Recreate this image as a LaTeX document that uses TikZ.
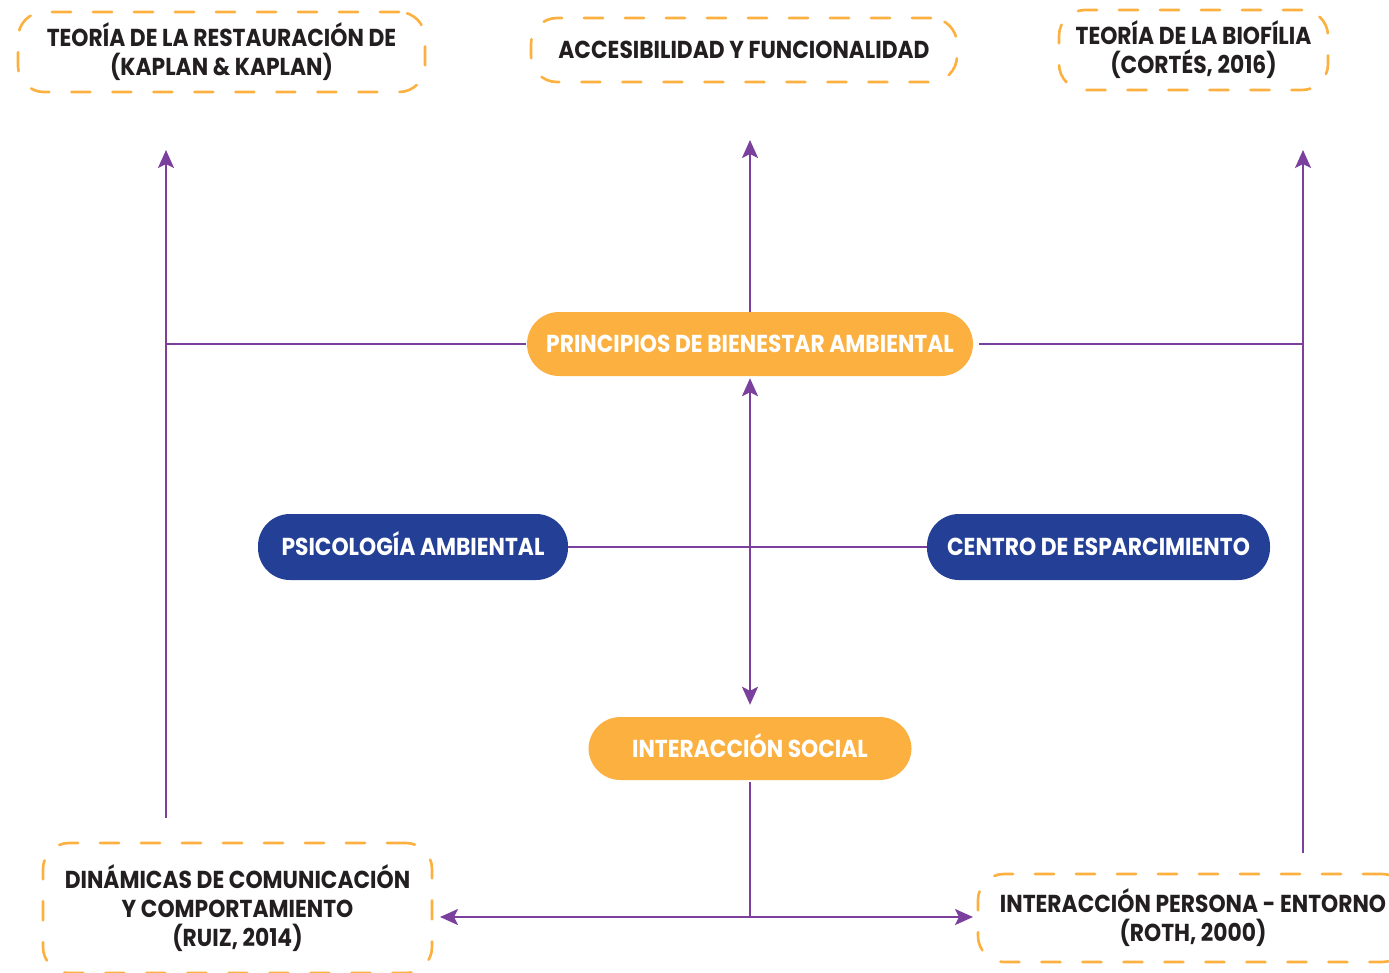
\documentclass[tikz,border=0pt]{standalone}
\usepackage{fontspec}
\setmainfont{Poppins}[FakeStretch=0.89]
\usetikzlibrary{arrows.meta}
\definecolor{orng}{HTML}{FBB040}
\definecolor{purp}{HTML}{7B3F9E}
\definecolor{navy}{HTML}{233F96}
\definecolor{ink}{HTML}{231F20}
\tikzset{
  dbox/.style={draw=orng, line width=2.6pt, dash pattern=on 19pt off 22pt, line cap=round,
    rounded corners=26pt, align=center, text=ink, font=\fontsize{24.5}{29}\selectfont\bfseries, inner sep=0pt},
  pill/.style={rounded corners=32pt, text=white, font=\fontsize{24.5}{29}\selectfont\bfseries, inner sep=0pt, minimum height=64pt, text height=17pt, text depth=0pt},
  opill/.style={pill, fill=orng},
  bpill/.style={pill, fill=navy},
  conn/.style={draw=purp, line width=2.4pt},
  arr/.style={-{Stealth[length=18pt,width=16pt,inset=4pt]}},
  darr/.style={{Stealth[length=18pt,width=16pt,inset=4pt]}-{Stealth[length=18pt,width=16pt,inset=4pt]}}
}
\begin{document}
\begin{tikzpicture}[x=1pt,y=-1pt]
\useasboundingbox (0,0) rectangle (1389,972);
% dashed boxes
\node[dbox, minimum width=407pt, minimum height=80pt] (kap) at (221.5,52) {TEORÍA DE LA RESTAURACIÓN DE\\(KAPLAN \& KAPLAN)};
\node[dbox, minimum width=426pt, minimum height=64pt] (acc) at (744,50) {ACCESIBILIDAD Y FUNCIONALIDAD};
\node[dbox, minimum width=269pt, minimum height=80pt] (bio) at (1193.5,50) {TEORÍA DE LA BIOFÍLIA\\(CORTÉS, 2016)};
\node[dbox, minimum width=389pt, minimum height=130pt] (rui) at (237.5,908) {DINÁMICAS DE COMUNICACIÓN\\Y COMPORTAMIENTO\\(RUIZ, 2014)};
\node[dbox, minimum width=430pt, minimum height=88pt] (rot) at (1193,918) {INTERACCIÓN PERSONA - ENTORNO\\(ROTH, 2000)};
% filled pills
\node[opill, minimum width=446pt] (pri) at (750,344) {PRINCIPIOS DE BIENESTAR AMBIENTAL};
\node[bpill, minimum width=310pt, minimum height=66pt] (psi) at (413,547) {PSICOLOGÍA AMBIENTAL};
\node[bpill, minimum width=343pt, minimum height=66pt] (cen) at (1098.5,547) {CENTRO DE ESPARCIMIENTO};
\node[opill, minimum width=323pt, minimum height=63pt] (soc) at (750,748.5) {INTERACCIÓN SOCIAL};
% coordinates
\coordinate (lm) at (166,344);
\coordinate (lt) at (166,150);
\coordinate (lb) at (166,818);
\coordinate (rm) at (1303,344);
\coordinate (rt) at (1303,150);
\coordinate (rb) at (1303,853);
\coordinate (ct) at (750,140);
\coordinate (bj) at (750,917);
\coordinate (bl) at (440,917);
\coordinate (br) at (973,917);
% connectors
\draw[conn, shorten <=1pt] (pri.west) -- (lm);
\draw[conn, shorten <=6pt] (pri.east) -- (rm);
\draw[conn, arr] (lb) -- (lt);
\draw[conn, arr] (rb) -- (rt);
\draw[conn, arr] (pri.north) -- (ct);
\draw[conn, darr, shorten <=2pt, shorten >=12pt] (pri.south) -- (soc.north);
\draw[conn] (psi.east) -- (cen.west);
\draw[conn, shorten <=2pt] (soc.south) -- (bj);
\draw[conn, arr] (bj) -- (bl);
\draw[conn, arr] (bj) -- (br);
\end{tikzpicture}
\end{document}
